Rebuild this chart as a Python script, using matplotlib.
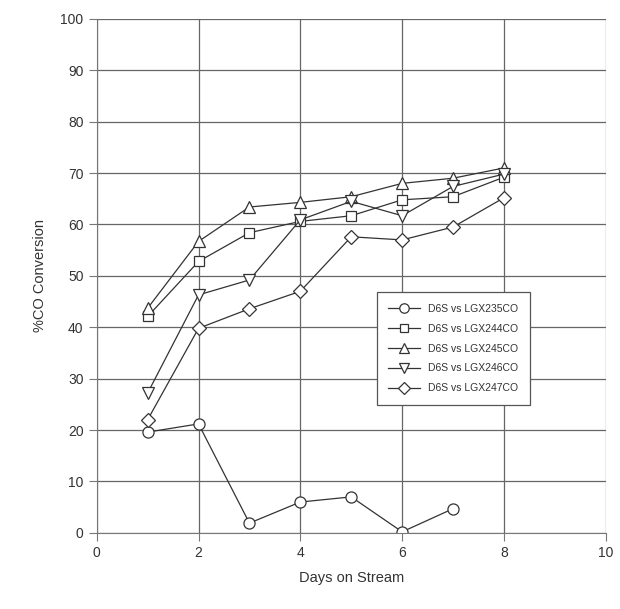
import numpy as np
import matplotlib.pyplot as plt

plt.rcParams['font.family'] = ['Liberation Sans', 'DejaVu Sans']

# data
days = [1, 2, 3, 4, 5, 6, 7, 8]
lgx235 = [19.6, 21.2, 1.9, 6.0, 7.0, 0.2, 4.7]
lgx244 = [42.1, 52.8, 58.4, 60.6, 61.7, 64.8, 65.4, 69.2]
lgx245 = [43.7, 56.7, 63.4, 64.3, 65.4, 68.0, 69.0, 71.0]
lgx246 = [27.2, 46.3, 49.2, 60.9, 64.5, 61.7, 67.4, 69.8]
lgx247 = [22.0, 39.8, 43.6, 47.0, 57.6, 57.0, 59.5, 65.2]

labels = ['D6S vs LGX235CO', 'D6S vs LGX244CO', 'D6S vs LGX245CO',
          'D6S vs LGX246CO', 'D6S vs LGX247CO']
series = [lgx235, lgx244, lgx245, lgx246, lgx247]
markers = ['o', 's', '^', 'v', 'D']
msizes = [8, 7.5, 8, 8, 7]

fig = plt.figure(figsize=(6.2, 6.09), dpi=100)
ax = fig.add_axes([0.156, 0.125, 0.821, 0.844])

for vals, lab, m, ms in zip(series, labels, markers, msizes):
    ax.plot(days[:len(vals)], vals, color='#333333', lw=0.9, marker=m, ms=ms,
            mfc='white', mec='#333333', mew=0.9, label=lab)

ax.set_xlim(0, 10)
ax.set_ylim(0, 100)
ax.set_xticks(np.arange(0, 11, 2))
ax.set_yticks(np.arange(0, 101, 10))
ax.grid(True, color='#666666', lw=0.9)
ax.set_axisbelow(True)
for s in ['top', 'right']:
    ax.spines[s].set_visible(False)
for s in ['left', 'bottom']:
    ax.spines[s].set_color('#777777')
ax.tick_params(direction='out', length=6, color='#777777', labelsize=10, colors='#333333')
ax.set_xlabel('Days on Stream', fontsize=10.5, color='#333333', labelpad=8)
ax.set_ylabel('%CO Conversion', fontsize=10.5, color='#333333', labelpad=10)

leg = ax.legend(loc='upper left', bbox_to_anchor=(0.608, 0.52), bbox_transform=fig.transFigure,
                fontsize=7.5, frameon=True, fancybox=False, framealpha=1,
                edgecolor='#555555', handlelength=3, borderpad=1.1, labelspacing=0.95,
                markerscale=0.85, borderaxespad=0)
leg.get_frame().set_linewidth(0.9)
for t in leg.get_texts():
    t.set_color('#333333')

fig.savefig('out.png', dpi=100, facecolor='white')
